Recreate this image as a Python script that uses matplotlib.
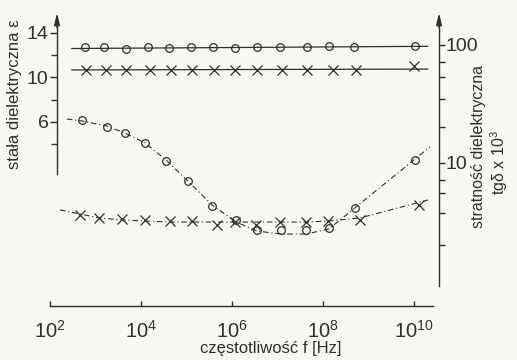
import numpy as np
import matplotlib
matplotlib.use("Agg")
import matplotlib.pyplot as plt
from matplotlib.ticker import FixedLocator, NullLocator, NullFormatter

plt.rcParams['font.family'] = ['Liberation Sans', 'DejaVu Sans']
plt.rcParams['mathtext.fontset'] = 'custom'
plt.rcParams['mathtext.rm'] = 'Liberation Sans'
plt.rcParams['mathtext.it'] = 'Liberation Sans'

# --- dane (log10 f) ---
# stała dielektryczna (lewa oś)
eps_o_logf = [2.77, 3.19, 3.67, 4.15, 4.62, 5.10, 5.58, 6.07, 6.55, 7.05, 7.65, 8.13, 8.68, 10.02]
eps_o = [12.73, 12.73, 12.55, 12.73, 12.64, 12.73, 12.73, 12.64, 12.73, 12.73, 12.73, 12.85, 12.73, 12.8]
eps_x_logf = [2.79, 3.23, 3.67, 4.20, 4.66, 5.12, 5.60, 6.07, 6.55, 7.10, 7.65, 8.22, 8.73, 10.0]
eps_x = [10.67, 10.67, 10.67, 10.67, 10.67, 10.7, 10.67, 10.67, 10.67, 10.67, 10.67, 10.67, 10.7, 11.0]
eps_o_line_logf = [2.48, 10.3]
eps_o_line = [12.6, 12.8]
eps_x_line_logf = [2.48, 10.3]
eps_x_line = [10.67, 10.75]

# stratność tgδ x 10^3 (prawa oś, log)
tg_o_logf = [2.70, 3.25, 3.65, 4.09, 4.55, 5.03, 5.56, 6.09, 6.55, 7.08, 7.63, 8.13, 8.70, 10.02]
tg_o = [23.1, 20.2, 17.9, 14.8, 10.4, 7.03, 4.33, 3.29, 2.70, 2.70, 2.70, 2.81, 4.16, 10.6]
tg_x_logf = [2.66, 3.08, 3.58, 4.09, 4.64, 5.12, 5.67, 6.07, 6.53, 7.05, 7.63, 8.11, 8.81, 10.11]
tg_x = [3.62, 3.42, 3.35, 3.29, 3.22, 3.22, 2.99, 3.16, 2.99, 3.16, 3.16, 3.22, 3.29, 4.41]
tg_o_curve_logf = [2.37, 2.70, 3.25, 3.65, 4.09, 4.55, 5.03, 5.56, 6.09, 6.55, 7.08, 7.63, 8.13, 8.70, 10.35]
tg_o_curve = [23.6, 22.7, 20.6, 17.9, 14.8, 10.6, 7.03, 4.41, 3.16, 2.65, 2.50, 2.50, 2.76, 4.16, 13.7]
tg_x_curve_logf = [2.22, 2.66, 3.08, 3.58, 4.09, 4.64, 5.12, 5.67, 6.07, 6.53, 7.05, 7.63, 8.11, 8.81, 10.31]
tg_x_curve = [4.0, 3.70, 3.42, 3.29, 3.22, 3.16, 3.16, 3.16, 3.16, 3.16, 3.16, 3.16, 3.22, 3.42, 4.86]

x_ticks = [2, 4, 6, 8, 10]
left_major = [6, 10, 14]
left_minor = [4, 8, 12]
right_major = [10, 100]
right_minor = [2.0, 3.8, 5.6, 7.2, 20, 35, 54, 72]

ink = '#2e2e2e'
bg = '#f8f7f3'

def hz(v):
    return 10.0 ** np.asarray(v)

fig = plt.figure(figsize=(5.17, 3.6), dpi=100, facecolor=bg)
ax = fig.add_axes([40 / 517, 54 / 360, 405 / 517, 293 / 360])
ax.set_facecolor('none')
ax2 = ax.twinx()

ax.set_xscale('log')
ax.set_xlim(10 ** 1.780, 10 ** 10.681)
ax.set_ylim(-10.59, 15.80)
ax2.set_yscale('log')
ax2.set_ylim(10 ** -0.212, 10 ** 2.271)

# stała dielektryczna
ax.plot(hz(eps_o_line_logf), eps_o_line, '-', color=ink, lw=0.9)
ax.plot(hz(eps_x_line_logf), eps_x_line, '-', color=ink, lw=0.9)
ax.plot(hz(eps_o_logf), eps_o, 'o', mfc='none', mec=ink, ms=5.5, mew=0.9)
ax.plot(hz(eps_x_logf), eps_x, 'x', color=ink, ms=6.5, mew=0.9)

# stratność
dd = (0, (5, 2.5, 1, 2.5))
ax2.plot(hz(tg_o_curve_logf), tg_o_curve, color=ink, lw=0.8, linestyle=dd)
ax2.plot(hz(tg_x_curve_logf), tg_x_curve, color=ink, lw=0.8, linestyle=dd)
ax2.plot(hz(tg_o_logf), tg_o, 'o', mfc='none', mec=ink, ms=5.5, mew=0.9)
ax2.plot(hz(tg_x_logf), tg_x, 'x', color=ink, ms=6.5, mew=0.9)

# osie
x_left = 10 ** 2.154
x_right = 10 ** 10.55
for s in ['top', 'right']:
    ax.spines[s].set_visible(False)
for s in ['top', 'left', 'bottom']:
    ax2.spines[s].set_visible(False)
ax.spines['left'].set_position(('data', x_left))
ax.spines['left'].set_bounds(1.3, 15.0)
ax.spines['bottom'].set_bounds(10 ** 2, 10 ** 10.42)
ax2.spines['right'].set_position(('data', x_right))
ax2.spines['right'].set_bounds(0.91, 10 ** 2.2)
for sp in [ax.spines['left'], ax.spines['bottom'], ax2.spines['right']]:
    sp.set_color(ink)
    sp.set_linewidth(1.0)

for xa in [x_left, x_right]:
    ax.annotate('', xy=(xa, 1.0), xytext=(xa, 0.95), xycoords=('data', 'axes fraction'),
                arrowprops=dict(arrowstyle='-|>,head_length=0.7,head_width=0.17',
                                color=ink, lw=1.0, shrinkA=0, shrinkB=0),
                annotation_clip=False)

ax.xaxis.set_major_locator(FixedLocator(hz(x_ticks)))
ax.xaxis.set_minor_locator(NullLocator())
ax.set_xticklabels(['$10^{%d}$' % e for e in x_ticks])
ax.tick_params(axis='x', direction='in', length=3.5, width=1, color=ink,
               labelsize=14.5, labelcolor=ink, pad=10)

ax.yaxis.set_major_locator(FixedLocator(left_major))
ax.yaxis.set_minor_locator(FixedLocator(left_minor))
ax.tick_params(axis='y', which='major', direction='out', length=5, width=1, color=ink,
               labelsize=14, labelcolor=ink, pad=1)
ax.tick_params(axis='y', which='minor', direction='out', length=4, width=1, color=ink)

ax2.yaxis.set_major_locator(FixedLocator(right_major))
ax2.yaxis.set_minor_locator(FixedLocator(right_minor))
ax2.yaxis.set_minor_formatter(NullFormatter())
ax2.set_yticklabels(['10', '100'])
ax2.tick_params(axis='y', which='major', direction='out', length=4, width=1, color=ink,
                labelsize=14, labelcolor=ink, pad=1)
ax2.tick_params(axis='y', which='minor', direction='out', length=4, width=1, color=ink)

fig.text(15 / 517, 1 - 94 / 360, 'stała dielektryczna ε', rotation=90,
         ha='center', va='center', fontsize=12, color=ink)
fig.text(478 / 517, 1 - 147 / 360, 'stratność dielektryczna', rotation=90,
         ha='center', va='center', fontsize=11.5, color=ink)
fig.text(499 / 517, 1 - 163 / 360, 'tgδ x 10$^{3}$', rotation=90,
         ha='center', va='center', fontsize=11.5, color=ink)
fig.text(271 / 517, 1 - 349 / 360, 'częstotliwość f [Hz]',
         ha='center', va='center', fontsize=12, color=ink)

fig.savefig('out.png', dpi=100, facecolor=bg)
